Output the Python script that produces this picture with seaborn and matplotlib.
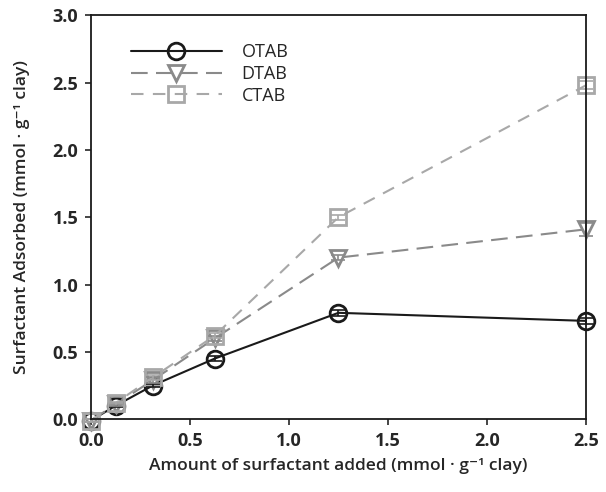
import numpy as np
import pandas as pd
import matplotlib
matplotlib.use("Agg")
import matplotlib.pyplot as plt
import seaborn as sns
from matplotlib.lines import Line2D

# adsorcao de surfactante vs quantidade adicionada
added = [0.0, 0.125, 0.3125, 0.625, 1.25, 2.5]
otab = [-0.01, 0.10, 0.25, 0.45, 0.79, 0.73]
dtab = [-0.01, 0.11, 0.29, 0.60, 1.20, 1.41]
ctab = [-0.01, 0.12, 0.31, 0.62, 1.50, 2.48]
otab_err = [0.01, 0.01, 0.01, 0.02, 0.02, 0.02]
dtab_err = [0.01, 0.01, 0.02, 0.02, 0.02, 0.05]
ctab_err = [0.01, 0.01, 0.02, 0.02, 0.02, 0.03]

names = ["OTAB", "DTAB", "CTAB"]
df = pd.DataFrame({
    "added": added * 3,
    "adsorbed": otab + dtab + ctab,
    "err": otab_err + dtab_err + ctab_err,
    "surf": np.repeat(names, len(added)),
})

sns.set_style("ticks")
plt.rcParams["font.family"] = ["Open Sans", "DejaVu Sans"]

fig = plt.figure(figsize=(6.06, 4.92), dpi=100)
ax = fig.add_axes([0.150, 0.148, 0.817, 0.821])

colors = {"OTAB": "#1a1a1a", "DTAB": "#8a8a8a", "CTAB": "#a8a8a8"}
markers = {"OTAB": "o", "DTAB": "v", "CTAB": "s"}
dashes = {"OTAB": "", "DTAB": (8, 4), "CTAB": (6, 4.5)}

sns.lineplot(data=df, x="added", y="adsorbed", hue="surf", style="surf",
             palette=colors, markers=markers, dashes=dashes, ax=ax,
             markersize=12, markerfacecolor="none", markeredgewidth=2,
             linewidth=1.5, legend=False, clip_on=False)

for s in names:
    sub = df[df["surf"] == s]
    ax.errorbar(sub["added"], sub["adsorbed"], yerr=sub["err"], fmt="none",
                ecolor=colors[s], elinewidth=1.2, capsize=5, capthick=1.2,
                clip_on=False)

# marcadores abertos
for line, s in zip(ax.lines[:3], names):
    line.set_markerfacecolor("none")
    line.set_markeredgecolor(colors[s])

ax.set_xlim(0, 2.5)
ax.set_ylim(0, 3.0)
ax.set_xticks([0.0, 0.5, 1.0, 1.5, 2.0, 2.5])
ax.set_yticks([0.0, 0.5, 1.0, 1.5, 2.0, 2.5, 3.0])
ax.set_xticklabels([f"{v:.1f}" for v in ax.get_xticks()])
ax.set_yticklabels([f"{v:.1f}" for v in ax.get_yticks()])
ax.tick_params(labelsize=13, direction="out", length=4, width=1.2, pad=5)
for lab in ax.get_xticklabels() + ax.get_yticklabels():
    lab.set_fontweight("bold")
for sp in ax.spines.values():
    sp.set_linewidth(1.3)
    sp.set_color("#1a1a1a")

ax.set_xlabel("Amount of surfactant added (mmol · g⁻¹ clay)",
              fontsize=12.5, fontweight="semibold", labelpad=6)
ax.set_ylabel("Surfactant Adsorbed (mmol · g⁻¹ clay)",
              fontsize=12.5, fontweight="semibold", labelpad=16)

handles = [Line2D([], [], color=colors[s], marker=markers[s],
                  linestyle="-" if s == "OTAB" else (0, dashes[s]),
                  markerfacecolor="none", markeredgewidth=2, markersize=12,
                  linewidth=1.5) for s in names]
ax.legend(handles, names, loc="upper left", bbox_to_anchor=(0.067, 0.948),
          frameon=False, handlelength=5, fontsize=13, labelspacing=0.2,
          handletextpad=1.1, borderaxespad=0)

fig.savefig("out.png", dpi=100)
